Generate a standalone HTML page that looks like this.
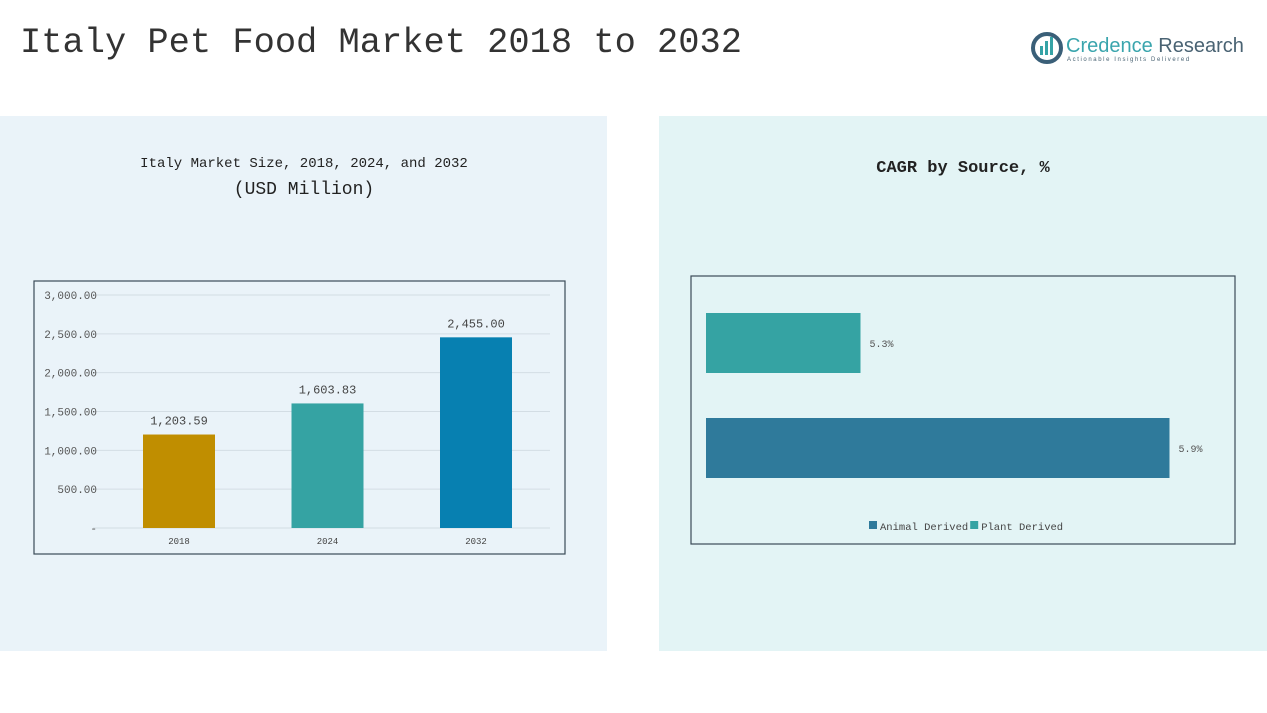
<!DOCTYPE html>
<html>
<head>
<meta charset="utf-8">
<style>
  html,body{margin:0;padding:0;background:#ffffff;}
  body{width:1267px;height:713px;position:relative;overflow:hidden;font-family:"Liberation Mono","Noto Sans CJK SC",monospace;}
  .panel{position:absolute;}
  svg text{font-family:"Liberation Mono","Noto Sans CJK SC",monospace;}
</style>
</head>
<body>
<div class="panel" style="left:0;top:116px;width:607px;height:535px;background:#eaf3f9;"></div>
<div class="panel" style="left:659px;top:116px;width:608px;height:535px;background:#e3f4f5;"></div>

<svg id="main" width="1267" height="713" style="position:absolute;left:0;top:0;">
  <text x="20" y="52" font-size="35" fill="#333" textLength="722" lengthAdjust="spacingAndGlyphs">Italy Pet Food Market 2018 to 2032</text>
  <g>
    <circle cx="1047" cy="48" r="14" fill="none" stroke="#3a5f78" stroke-width="4"/>
    <rect x="1040" y="46" width="3" height="9" fill="#35a3a6"/>
    <rect x="1045" y="41" width="3" height="14" fill="#35a3a6"/>
    <rect x="1050" y="37" width="3" height="18" fill="#35a3a6"/>
    <text x="1066" y="52" font-size="20" fill="#3aa5ad" style="font-family:'Liberation Sans',sans-serif">Credence <tspan fill="#4a6373">Research</tspan></text>
    <text x="1067" y="61" font-size="6" fill="#4a6373" letter-spacing="1.6" style="font-family:'Liberation Sans',sans-serif">Actionable Insights Delivered</text>
  </g>
  <text x="304" y="167" font-size="14" fill="#222" text-anchor="middle">Italy Market Size, 2018, 2024, and 2032</text>
  <text x="304" y="194" font-size="18" fill="#222" text-anchor="middle">(USD Million)</text>
  <text x="963" y="172" font-size="17" fill="#222" text-anchor="middle" font-weight="bold">CAGR by Source, %</text>
  <rect x="34" y="281" width="531" height="273" fill="none" stroke="#3b4a57" stroke-width="1.2"/>
  <rect x="691" y="276" width="544" height="268" fill="none" stroke="#3b4a57" stroke-width="1.2"/>
  <g id="left"></g>
  <g id="right"></g>
</svg>

<script>
// Left chart data
const years = ["2018", "2024", "2032"];
const marketValues = [1203.59, 1603.83, 2455.00];
const yTicks = [0, 500, 1000, 1500, 2000, 2500, 3000];
const yTickLabels = ["-", "500.00", "1,000.00", "1,500.00", "2,000.00", "2,500.00", "3,000.00"];
const barLabels = ["1,203.59", "1,603.83", "2,455.00"];
const barColors = ["#c08e00", "#35a3a3", "#0780b1"];

// Right chart data
const sources = ["Plant Derived", "Animal Derived"];
const cagrValues = [5.3, 5.9];
const cagrLabels = ["5.3%", "5.9%"];
const cagrColors = ["#35a3a3", "#2f7a9b"];
const legendNames = ["Animal Derived", "Plant Derived"];
const legendColors = ["#2f7a9b", "#35a3a3"];

const NS = "http://www.w3.org/2000/svg";
function mk(tag, attrs, parent) {
  const e = document.createElementNS(NS, tag);
  for (const k in attrs) e.setAttribute(k, attrs[k]);
  parent.appendChild(e);
  return e;
}

// Left chart axes
const yScale = v => 528 - (v / 3000) * 233;
const xCenter = i => 179 + i * 148.5;
const barW = 72;
const left = document.getElementById("left");
yTicks.forEach((t, i) => {
  const gl = mk("line", {x1: 93, x2: 550, y1: yScale(t), y2: yScale(t), stroke: "#d3dde4", "stroke-width": 1}, left);
  
  
  const tl = mk("text", {x: 97, y: yScale(t) + 4, "font-size": 11, fill: "#555", "text-anchor": "end"}, left);
  tl.textContent = yTickLabels[i];
  
  
});
years.forEach((y, i) => {
  const v = marketValues[i];
  const b = mk("rect", {x: xCenter(i) - barW / 2, y: yScale(v), width: barW, height: yScale(0) - yScale(v), fill: barColors[i]}, left);
  
  
  const bl = mk("text", {x: xCenter(i), y: yScale(v) - 10, "font-size": 12, fill: "#444", "text-anchor": "middle"}, left);
  bl.textContent = barLabels[i];
  
  
  const xl = mk("text", {x: xCenter(i), y: 544, "font-size": 9, fill: "#444", "text-anchor": "middle"}, left);
  xl.textContent = y;
  
  
});

// Right chart axes (axis min 5.0)
const xScale = v => 706 + (v - 5.0) * 515;
const yBand = i => 313 + i * 105;
const bandH = 60;
const right = document.getElementById("right");
sources.forEach((s, i) => {
  const v = cagrValues[i];
  const b = mk("rect", {x: xScale(5.0), y: yBand(i), width: xScale(v) - xScale(5.0), height: bandH, fill: cagrColors[i]}, right);
  
  
  const l = mk("text", {x: xScale(v) + 9, y: yBand(i) + bandH / 2 + 4, "font-size": 10, fill: "#555"}, right);
  l.textContent = cagrLabels[i];
  
  
});
let lx = 869;
legendNames.forEach((n, i) => {
  const sw = mk("rect", {x: lx, y: 521, width: 8, height: 8, fill: legendColors[i]}, right);
  
  
  const t = mk("text", {x: lx + 11, y: 530, "font-size": 10.5, fill: "#444"}, right);
  t.textContent = n;
  
  
  lx += 11 + n.length * 6.3 + 2;
});
</script>
</body>
</html>
